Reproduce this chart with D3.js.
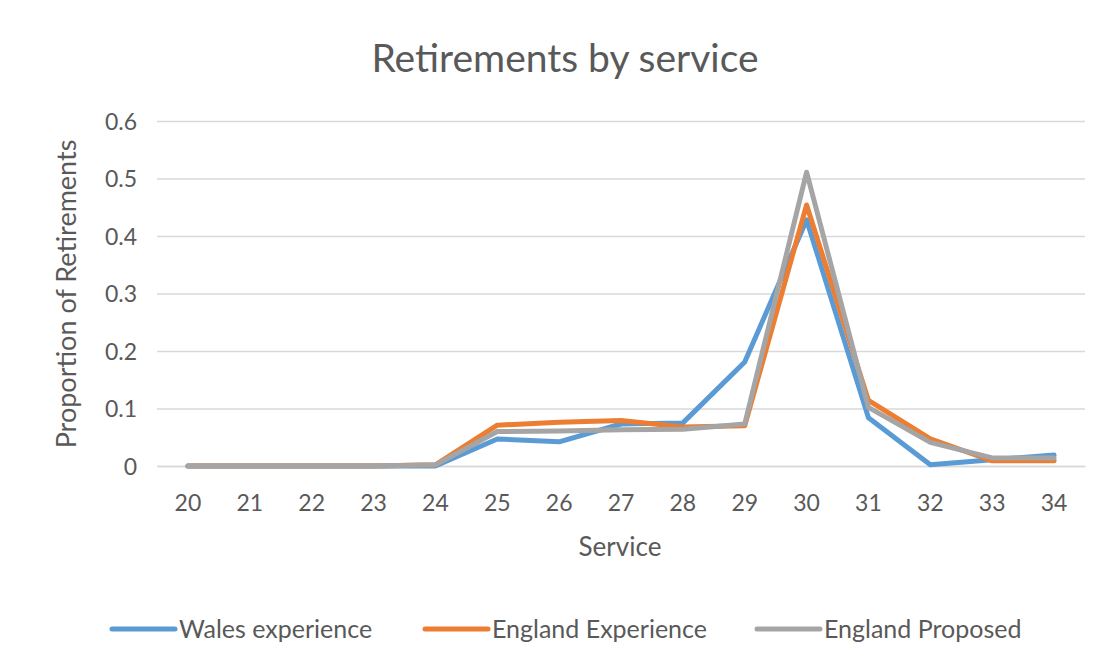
<!DOCTYPE html>
<html><head><meta charset="utf-8">
<script src="https://cdn.jsdelivr.net/npm/d3@7"></script>
<style>body{margin:0;background:#fff;} text{font-family:Lato, "Open Sans", sans-serif;fill:#595959;}</style>
</head><body>
<svg id="c" width="1114" height="667"></svg>
<script>
const categories = [20,21,22,23,24,25,26,27,28,29,30,31,32,33,34];
const walesExperience   = [0,0,0,0,0,0.047,0.042,0.073,0.075,0.181,0.428,0.084,0.002,0.011,0.019];
const englandExperience = [0,0,0,0,0.002,0.071,0.076,0.079,0.068,0.070,0.454,0.114,0.047,0.009,0.009];
const englandProposed   = [0,0,0,0,0.002,0.060,0.061,0.063,0.064,0.073,0.511,0.102,0.041,0.014,0.014];
const yTicks = [0,0.1,0.2,0.3,0.4,0.5,0.6];
const seriesNames = ["Wales experience","England Experience","England Proposed"];
const colors = ["#5B9BD5","#ED7D31","#A5A5A5"];
const series = [walesExperience, englandExperience, englandProposed];

const svg = d3.select("#c");
const pL=157, pR=1085, pT=121, pB=466;
const x = d3.scaleBand().domain(categories).range([pL,pR]);
const y = d3.scaleLinear().domain([0,0.6]).range([pB,pT]);

svg.append("text").attr("x",565).attr("y",72).attr("text-anchor","middle")
  .style("font-size","39px").text("Retirements by service");

const yAxis = svg.append("g").attr("transform",`translate(${pL},0)`)
  .call(d3.axisLeft(y).tickValues(yTicks).tickSize(-(pR-pL)).tickFormat(d=>d===0?"0":d3.format(".1f")(d)));
yAxis.select(".domain").remove();
yAxis.selectAll("line").attr("stroke","#d9d9d9").attr("stroke-width",1.3);
yAxis.selectAll("text").attr("x",-20).attr("dy","0.36em").style("font-size","23px").style("fill","#595959");

const xAxis = svg.append("g").attr("transform",`translate(0,${pB})`)
  .call(d3.axisBottom(x).tickSize(0));
xAxis.select(".domain").attr("stroke","#d9d9d9").attr("stroke-width",1.3);
xAxis.selectAll("text").attr("dy","0").attr("y",45).style("font-size","23px").style("fill","#595959");

svg.append("text").attr("x",620).attr("y",556).attr("text-anchor","middle")
  .style("font-size","26px").text("Service");
svg.append("text").attr("transform","translate(76,294) rotate(-90)").attr("text-anchor","middle")
  .style("font-size","27px").text("Proportion of Retirements");

const line = d3.line().x((d,i)=>x(categories[i])+x.bandwidth()/2).y(d=>y(d));
series.forEach((s,i)=>{
  svg.append("path").datum(s).attr("d",line).attr("fill","none")
    .attr("stroke",colors[i]).attr("stroke-width",5).attr("stroke-linejoin","round").attr("stroke-linecap","round");
});

const legX = [112, 425, 757];
seriesNames.forEach((n,i)=>{
  svg.append("line").attr("x1",legX[i]).attr("x2",legX[i]+63).attr("y1",629).attr("y2",629)
    .attr("stroke",colors[i]).attr("stroke-width",5).attr("stroke-linecap","round");
  svg.append("text").attr("x",legX[i]+67).attr("y",638).style("font-size","25px").text(n);
});
</script>
</body></html>
